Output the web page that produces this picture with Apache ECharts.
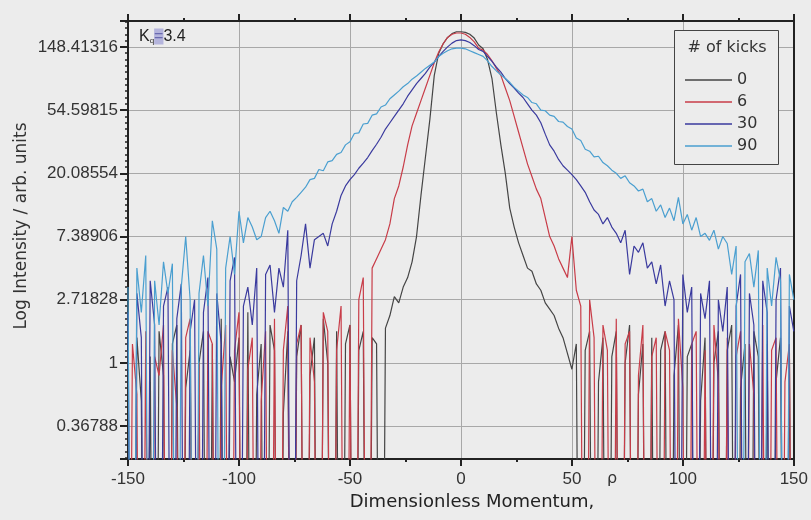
<!DOCTYPE html>
<html>
<head>
<meta charset="utf-8">
<script src="https://cdn.jsdelivr.net/npm/echarts@6/dist/echarts.min.js"></script>
<style>
  html, body { margin: 0; padding: 0; background: #ececec; }
  #chart { width: 811px; height: 520px; }
</style>
</head>
<body>
<div id="chart"></div>
<script>
// Momentum grid (dimensionless units)
const momentum = [
  -150,-148,-146,-144,-142,-140,-138,-136,-134,-132,
  -130,-128,-126,-124,-122,-120,-118,-116,-114,-112,
  -110,-108,-106,-104,-102,-100,-98,-96,-94,-92,
  -90,-88,-86,-84,-82,-80,-78,-76,-74,-72,
  -70,-68,-66,-64,-62,-60,-58,-56,-54,-52,
  -50,-48,-46,-44,-42,-40,-38,-36,-34,-32,
  -30,-28,-26,-24,-22,-20,-18,-16,-14,-12,
  -10,-8,-6,-4,-2,0,2,4,6,8,
  10,12,14,16,18,20,22,24,26,28,
  30,32,34,36,38,40,42,44,46,48,
  50,52,54,56,58,60,62,64,66,68,
  70,72,74,76,78,80,82,84,86,88,
  90,92,94,96,98,100,102,104,106,108,
  110,112,114,116,118,120,122,124,126,128,
  130,132,134,136,138,140,142,144,146,148,
  150
];

// ln(intensity) for each number of kicks; -10 marks empty (zero-count) bins
const kicks0 = [
  0.2,-10,0.4,-0.6,-10,0.1,-10,0.5,-0.2,-10,
  0.3,0.6,-10,-0.4,0.2,-10,0.0,0.5,-10,0.3,
  -10,0.7,-10,0.1,-0.3,0.4,-10,0.8,-10,-0.5,
  0.3,-10,0.6,0.2,-10,-0.8,0.5,-10,0.1,0.6,
  -10,-0.2,0.4,-10,0.7,0.0,-10,0.5,-10,0.3,
  0.6,-10,0.2,0.5,-10,0.4,0.3,-10,0.55,0.75,
  1.05,0.95,1.2,1.35,1.6,2.0,2.65,3.25,3.85,4.55,
  4.9,5.05,5.15,5.21,5.24,5.24,5.23,5.2,5.14,5.03,
  4.97,4.8,4.5,3.95,3.45,3.0,2.45,2.15,1.9,1.7,
  1.5,1.45,1.25,1.15,0.95,0.85,0.75,0.55,0.4,0.15,
  -0.1,0.3,-10,0.2,0.5,-10,-0.3,0.4,-10,0.1,
  0.5,-10,0.0,0.6,-10,-0.5,0.3,-10,0.4,-10,
  0.2,0.5,-10,-0.2,0.6,-10,0.1,0.3,-10,-0.6,
  0.4,-10,0.0,0.5,-10,0.2,0.6,-10,-0.4,0.3,
  -10,0.5,0.1,-10,0.3,-10,-0.3,0.4,-10,0.2,
  -10
];
const kicks6 = [
  -10,0.3,-0.5,-10,0.5,-10,0.1,-0.2,0.6,-10,
  0.2,-0.7,-10,0.4,0.7,-10,0.0,-10,0.5,0.3,
  -10,-0.4,0.6,-10,0.2,0.8,-10,-0.1,0.4,-10,
  -0.6,0.5,-10,0.7,-10,0.2,0.9,-10,0.3,0.6,
  -10,0.4,-0.3,-10,0.8,0.5,-10,0.2,0.9,-10,
  0.6,-10,1.0,1.35,-10,1.5,1.65,1.8,1.95,2.2,
  2.6,2.8,3.1,3.45,3.75,3.95,4.15,4.35,4.55,4.75,
  4.92,5.05,5.15,5.2,5.22,5.22,5.2,5.15,5.08,4.98,
  4.95,4.88,4.78,4.66,4.55,4.35,4.15,3.9,3.65,3.4,
  3.15,2.95,2.75,2.6,2.3,2.0,1.85,1.65,1.5,1.35,
  2.0,1.15,0.9,-10,1.0,0.4,-10,0.6,0.2,-10,
  0.7,-10,0.3,0.5,-10,-0.2,0.6,-10,0.1,0.4,
  -10,0.5,0.2,-10,0.7,-0.4,-10,0.3,0.5,-10,
  0.2,-10,0.6,-0.3,-10,0.4,-10,0.1,0.5,-10,
  0.3,-0.5,-10,0.6,-10,0.2,0.4,-10,-0.3,0.3,
  -10
];
const kicks30 = [
  0.8,-10,1.1,0.4,-10,1.3,0.6,-10,0.9,1.2,
  -10,0.7,1.25,-10,0.5,1.0,-10,0.8,1.35,-10,
  1.1,0.3,-10,1.3,1.67,-10,0.9,1.2,0.6,1.5,
  -10,1.4,1.55,0.8,1.5,1.2,2.1,-10,1.3,1.7,
  2.2,1.5,1.95,2.0,2.05,1.85,2.2,2.4,2.65,2.8,
  2.9,2.98,3.08,3.16,3.25,3.36,3.46,3.57,3.7,3.8,
  3.9,4.0,4.1,4.22,4.32,4.42,4.5,4.58,4.68,4.76,
  4.85,4.93,5.0,5.06,5.1,5.11,5.1,5.07,5.02,4.96,
  4.93,4.85,4.77,4.68,4.6,4.5,4.42,4.35,4.27,4.2,
  4.1,4.0,3.92,3.8,3.62,3.45,3.35,3.22,3.12,3.05,
  2.98,2.9,2.8,2.7,2.55,2.42,2.35,2.2,2.3,2.15,
  2.05,1.9,2.1,1.4,1.85,1.75,1.9,1.5,1.6,1.25,
  1.55,0.9,1.3,1.0,-10,1.4,0.8,1.2,-10,1.1,
  0.7,1.3,-10,1.0,0.5,1.2,-10,0.9,1.4,-10,
  1.1,0.6,-10,1.3,0.8,-10,1.0,1.5,-10,0.9,
  0.5
];
const kicks90 = [
  1.2,-10,1.5,0.8,1.7,-10,1.3,0.6,1.6,1.1,
  1.57,-10,1.2,2.0,1.0,-10,1.1,1.7,0.9,2.25,
  1.8,-10,1.5,2.0,1.4,2.4,1.9,2.3,2.15,1.95,
  2.0,2.3,2.4,2.25,2.05,2.46,2.4,2.55,2.62,2.7,
  2.78,2.9,2.92,3.06,3.04,3.18,3.2,3.3,3.33,3.45,
  3.5,3.63,3.64,3.78,3.79,3.92,3.94,4.05,4.08,4.18,
  4.24,4.3,4.37,4.42,4.49,4.54,4.6,4.66,4.71,4.76,
  4.85,4.9,4.94,4.97,4.98,4.98,4.97,4.94,4.91,4.88,
  4.85,4.78,4.69,4.62,4.56,4.5,4.44,4.36,4.3,4.24,
  4.2,4.12,4.1,4.0,3.99,3.92,3.9,3.82,3.81,3.74,
  3.7,3.56,3.52,3.38,3.35,3.26,3.27,3.17,3.12,3.05,
  3.0,2.92,2.96,2.85,2.8,2.72,2.75,2.55,2.6,2.4,
  2.5,2.3,2.45,2.25,2.62,2.2,2.35,2.1,2.3,2.0,
  2.05,1.94,2.1,1.8,2.0,1.89,1.4,1.85,-10,1.6,
  1.73,1.2,1.78,-10,1.5,0.9,1.67,1.3,-10,1.4,
  1.0
];

const seriesNames = ['0', '6', '30', '90'];
const seriesValues = [kicks0, kicks6, kicks30, kicks90];
const seriesColors = ['#454545', '#c83c48', '#3a3a9e', '#4a9fd0'];

// Tick labels of the log-intensity axis (e^n)
const yTickExponents = [-1, 0, 1, 2, 3, 4, 5];
const yTickLabels = ['0.36788', '1', '2.71828', '7.38906', '20.08554', '54.59815', '148.41316'];

const axisColor = '#222';
const gridColor = '#a8a8a8';
const labelFont = "'Liberation Sans', Arial, sans-serif";
const titleFont = "'DejaVu Sans', Verdana, sans-serif";

const chart = echarts.init(document.getElementById('chart'), null, { renderer: 'canvas' });

const frameAxis = {
  axisLine: { show: true, onZero: false, lineStyle: { color: axisColor, width: 2 } },
  axisTick: { show: true, inside: false, length: 7, lineStyle: { color: axisColor, width: 2 } }
};

chart.setOption({
  animation: false,
  backgroundColor: '#ececec',
  grid: { left: 128, right: 17, top: 21, bottom: 61, containLabel: false },
  xAxis: [
    Object.assign({
      type: 'value', position: 'bottom', min: -150, max: 150, interval: 50,
      minorTick: { show: true, splitNumber: 2, length: 3, lineStyle: { color: axisColor, width: 2 } },
      axisLabel: { fontSize: 17, color: '#333', margin: 12, fontFamily: labelFont },
      splitLine: { show: true, lineStyle: { color: gridColor, width: 1 } }
    }, frameAxis),
    Object.assign({
      type: 'value', position: 'top', min: -150, max: 150, interval: 50,
      minorTick: { show: true, splitNumber: 2, length: 3, lineStyle: { color: axisColor, width: 2 } },
      axisLabel: { show: false },
      splitLine: { show: false }
    }, frameAxis)
  ],
  yAxis: [
    Object.assign({
      type: 'value', position: 'left', min: -1.52, max: 5.41, splitNumber: 7,
      minorTick: { show: true, splitNumber: 10, length: 3, lineStyle: { color: axisColor, width: 1.5 } },
      axisLabel: {
        fontSize: 17, color: '#333', margin: 10, fontFamily: labelFont,
        showMinLabel: true, showMaxLabel: true,
        formatter: function (v) {
          const i = yTickExponents.indexOf(Math.round(v * 1000) / 1000);
          return i >= 0 ? yTickLabels[i] : '';
        }
      },
      splitLine: { show: true, lineStyle: { color: gridColor, width: 1 } }
    }, frameAxis, { axisTick: { show: true, inside: false, length: 8, lineStyle: { color: axisColor, width: 2 } } }),
    {
      type: 'value', position: 'right', min: -1.52, max: 5.41,
      axisLine: { show: true, onZero: false, lineStyle: { color: axisColor, width: 2 } },
      axisTick: { show: false }, axisLabel: { show: false }, splitLine: { show: false }
    }
  ],
  legend: {
    data: seriesNames,
    orient: 'vertical',
    left: 685, top: 72,
    icon: 'rect',
    itemWidth: 47, itemHeight: 1.5,
    itemGap: 6,
    padding: 0,
    textStyle: { fontSize: 16, color: '#333', fontFamily: titleFont, padding: [0, 0, 0, 0] },
    selectedMode: false
  },
  graphic: [
    { type: 'rect', z: 3, shape: { x: 674.5, y: 30.5, width: 104, height: 134 },
      style: { fill: '#ececec', stroke: '#444', lineWidth: 1 } },
    { type: 'text', z: 5, x: 727, y: 48,
      style: { text: '# of kicks', fontSize: 16, fontFamily: titleFont, fill: '#333', align: 'center', verticalAlign: 'middle' } },
    { type: 'text', z: 5, x: 139, y: 28,
      style: {
        text: '{k|K}{q|q}{eq|=}{v|3.4}',
        rich: {
          k: { fontSize: 16, fontFamily: labelFont, fill: '#222' },
          q: { fontSize: 8, fontFamily: labelFont, fill: '#222', padding: [9, 0, 0, 0] },
          eq: { fontSize: 16, fontFamily: labelFont, fill: '#6a6ab0', backgroundColor: '#b4b4dc' },
          v: { fontSize: 16, fontFamily: labelFont, fill: '#222' }
        }
      } },
    { type: 'text', z: 5, x: 472, y: 502,
      style: { text: 'Dimensionless Momentum,', fontSize: 18, fontFamily: titleFont, fill: '#222', align: 'center', verticalAlign: 'middle' } },
    { type: 'text', z: 5, x: 612, y: 479,
      style: { text: 'ρ', fontSize: 16, fontFamily: titleFont, fill: '#333', align: 'center', verticalAlign: 'middle' } },
    { type: 'text', z: 5, x: 22, y: 226, rotation: Math.PI / 2,
      style: { text: 'Log Intensity / arb. units', fontSize: 17, fontFamily: titleFont, fill: '#333', align: 'center', verticalAlign: 'middle' } }
  ],
  series: seriesNames.map(function (name, k) {
    return {
      name: name,
      type: 'line',
      xAxisIndex: 0,
      yAxisIndex: 0,
      showSymbol: false,
      symbol: 'none',
      clip: true,
      z: 2 + k * 0.01,
      color: seriesColors[k],
      lineStyle: { color: seriesColors[k], width: 1.2 },
      data: momentum.map(function (x, i) { return [x, seriesValues[k][i]]; })
    };
  })
});
</script>
</body>
</html>
